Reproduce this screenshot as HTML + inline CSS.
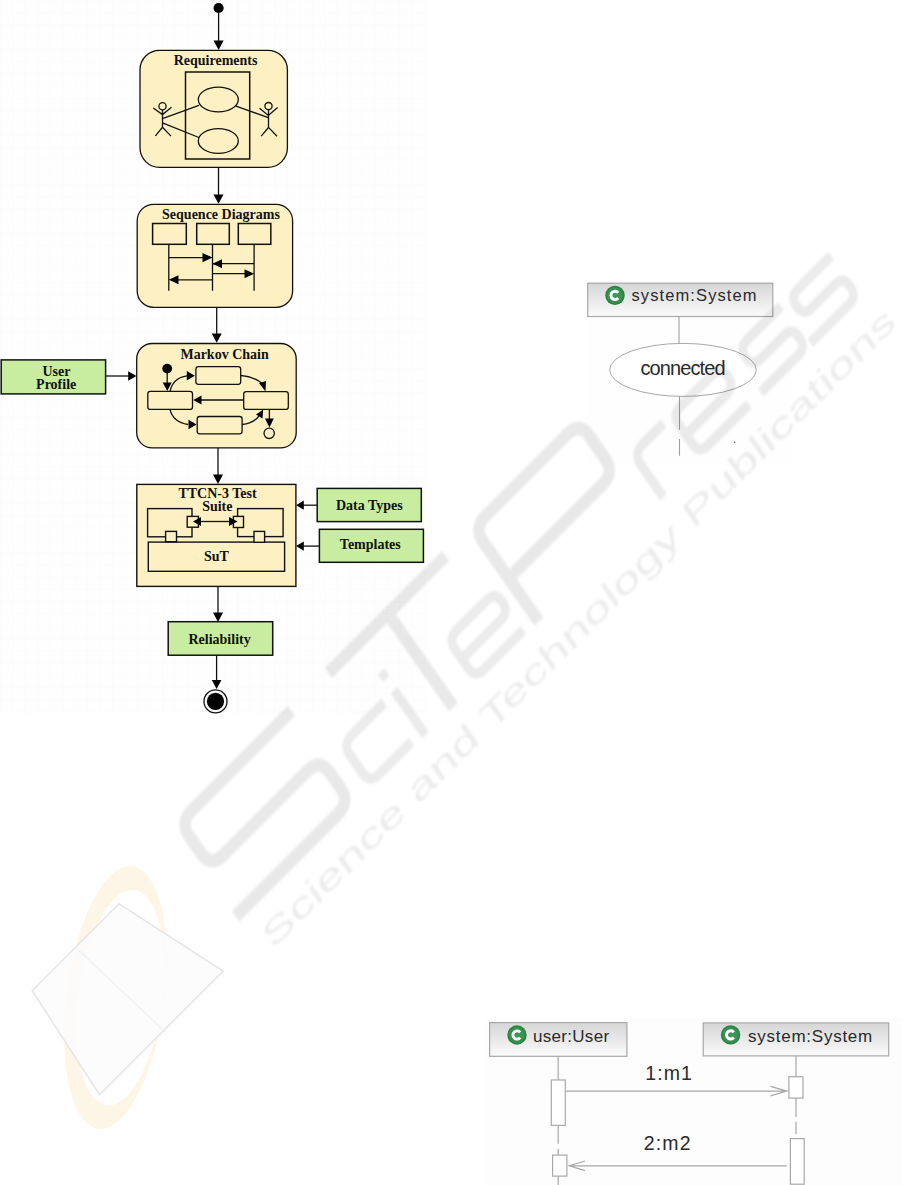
<!DOCTYPE html>
<html><head><meta charset="utf-8">
<style>
html,body{margin:0;padding:0;background:#fff;}
body{width:915px;height:1185px;overflow:hidden;position:relative;font-family:"Liberation Sans",sans-serif;}
svg{position:absolute;left:0;top:0;}
.sr{font-family:"Liberation Serif",serif;font-weight:bold;font-size:14px;fill:#111;}
.ss{font-family:"Liberation Sans",sans-serif;fill:#2a2a2a;}
</style></head>
<body>
<svg width="915" height="1185" viewBox="0 0 915 1185">
<defs>
<linearGradient id="hg" x1="0" y1="0" x2="0" y2="1">
<stop offset="0" stop-color="#d6d6d6"/><stop offset="1" stop-color="#fbfbfb"/>
</linearGradient>
<radialGradient id="ig" cx="0.5" cy="0.5" r="0.5">
<stop offset="0" stop-color="#3f9658"/><stop offset="0.7" stop-color="#3a9152"/><stop offset="1" stop-color="#23803a"/>
</radialGradient>
<g id="cic">
<circle cx="0" cy="0" r="9.7" fill="url(#ig)"/>
<path d="M3.2 -2.6 A4.1 4.1 0 1 0 3.2 2.6" fill="none" stroke="#fff" stroke-width="2.9"/>
</g>
<filter id="wb" x="-5%" y="-5%" width="110%" height="110%"><feGaussianBlur stdDeviation="1.2"/></filter>
<!-- figure backgrounds -->
<pattern id="grid" x="-0.4" y="-0.4" width="12.48" height="12.27" patternUnits="userSpaceOnUse">
<rect width="12.48" height="12.27" fill="#fefefe"/>
<path d="M0 0.6 H12.48 M0.6 0 V12.27" stroke="#fcfcfc" stroke-width="1"/>
</pattern>
</defs>
<!-- WATERMARK -->
<rect x="0" y="0" width="425" height="715.4" fill="url(#grid)"/>
<rect x="585.8" y="281" width="205" height="184.6" fill="#fefefe"/>
<!-- logo -->
<g id="logo">
<path fill="#f9e2ae" fill-opacity="0.3" fill-rule="evenodd" d="M115.4 865 A48.9 132.5 0 1 0 115.41 865 Z M120.4 888.4 A42.1 108.5 0 1 1 120.39 888.4 Z" transform="rotate(7.4 115.4 997.5)"/>
<path d="M119.1 903.8 L223.1 971.1 L99.5 1094.7 L32.2 990.7 Z" fill="#fbfbfb" fill-opacity="0.85" stroke="#e6e6e6" stroke-width="1.6"/>
<path d="M78.7 950.3 L165.6 1032.3" stroke="#f0f0f0" stroke-width="1.2"/>
</g>

<!-- LEFT FIGURE -->
<g stroke="#111" stroke-width="1.3" fill="none">
  <!-- start -->
  <circle cx="218.6" cy="8" r="5.1" fill="#000" stroke="none"/>
  <line x1="218.6" y1="12" x2="218.6" y2="42"/>
  <path d="M213.6 40.5 L223.6 40.5 L218.6 50 Z" fill="#000" stroke="none"/>
  <!-- Requirements -->
  <rect x="140" y="50.3" width="147.4" height="117" rx="19.5" fill="#fdf0c3" stroke-width="1.3"/>
  <rect x="185.5" y="72" width="64.2" height="87" stroke-width="1.5"/>
  <ellipse cx="218.3" cy="99.5" rx="20" ry="12.4"/>
  <ellipse cx="218.3" cy="141" rx="20" ry="12.3"/>
  <!-- left actor -->
  <circle cx="162.5" cy="106.2" r="3.6"/>
  <path d="M153.3 108 L162.5 114.6 L171.5 107.3 M162.5 110 L162.5 127.2 L155.4 135.9 M162.5 127.2 L171 136.1"/>
  <path d="M162.5 118.6 L198.9 105.3 M162.5 122.8 L198.9 137.5"/>
  <!-- right actor -->
  <circle cx="268.5" cy="106.1" r="3.6"/>
  <path d="M259.6 108.3 L268.3 115.4 L277.6 107.5 M268.5 110 L268.5 127.4 L261.2 136.2 M268.5 127.4 L277 136.2"/>
  <path d="M236 106.1 L268.3 117.6"/>
  <!-- connector -->
  <line x1="218.5" y1="167.4" x2="218.5" y2="195"/>
  <path d="M213.5 194.4 L223.5 194.4 L218.5 203.8 Z" fill="#000" stroke="none"/>

  <!-- Sequence Diagrams -->
  <rect x="137.2" y="204.3" width="155.4" height="103.1" rx="16.5" fill="#fdf0c3" stroke-width="1.3"/>
  <rect x="152.6" y="223.5" width="33.7" height="20.8" stroke-width="1.5"/>
  <rect x="196.7" y="223.5" width="32.6" height="20.8" stroke-width="1.5"/>
  <rect x="238.3" y="223.5" width="32.5" height="20.8" stroke-width="1.5"/>
  <path d="M168.8 244.3 V290.7 M212.5 244.3 V290.7 M254.1 244.3 V290.7"/>
  <path d="M168.8 257.6 H203 M212.5 263.7 H222 M212.5 273.7 H245 M212.5 279.8 H178"/>
  <path d="M212.5 263.7 H254.1"/>
  <path d="M212.5 257.6 L202.5 253 L202.5 262.2 Z M212.5 263.7 L222 259.2 L222 268.2 Z M254.1 273.7 L244.5 269.2 L244.5 278.2 Z M168.8 279.8 L178.5 275.3 L178.5 284.3 Z" fill="#000" stroke="none"/>
  <line x1="216.7" y1="307.4" x2="216.7" y2="334"/>
  <path d="M211.7 333.4 L221.7 333.4 L216.7 342.7 Z" fill="#000" stroke="none"/>

  <!-- Markov Chain -->
  <rect x="136.7" y="343.5" width="159.5" height="104.4" rx="15.5" fill="#fdf0c3" stroke-width="1.3"/>
  <rect x="147.8" y="391.4" width="44.7" height="18" rx="2.5" fill="#fdf0c3"/>
  <rect x="195.9" y="366.6" width="44.8" height="17.7" rx="2.5" fill="#fdf0c3"/>
  <rect x="197.2" y="416.5" width="44.9" height="17.3" rx="2.5" fill="#fdf0c3"/>
  <rect x="243.7" y="391.7" width="44.6" height="17.7" rx="2.5" fill="#fdf0c3"/>
  <circle cx="167.2" cy="368.6" r="4.9" fill="#000" stroke="none"/>
  <line x1="167.2" y1="372" x2="167.2" y2="383"/>
  <path d="M162.7 382.6 L171.7 382.6 L167.2 391.1 Z" fill="#000" stroke="none"/>
  <path d="M170 391.4 C172 382 178 377 187 375.8"/>
  <path d="M194.8 375.8 L186.8 371 L186.8 380.6 Z" fill="#000" stroke="none"/>
  <path d="M170 409.4 C172 418 178 423 188 424.5"/>
  <path d="M196.5 424.5 L188.5 419.8 L188.5 429.2 Z" fill="#000" stroke="none"/>
  <path d="M240.7 375.5 C250 376 258 380 263 384"/>
  <path d="M265.5 391.4 L259 383 L266 381 Z" fill="#000" stroke="none"/>
  <path d="M242.1 424.5 C250 424 256 420 259 416"/>
  <path d="M263.2 409.6 L262.5 418.5 L256 414.5 Z" fill="#000" stroke="none"/>
  <path d="M243.7 400 H201"/>
  <path d="M193.2 400 L201.5 395.5 L201.5 404.5 Z" fill="#000" stroke="none"/>
  <line x1="269.4" y1="409.4" x2="269.4" y2="420"/>
  <path d="M265 418.5 L273.8 418.5 L269.4 427.4 Z" fill="#000" stroke="none"/>
  <circle cx="269.2" cy="433.3" r="5.2" fill="#fdf0c3"/>
  <line x1="218" y1="447.9" x2="218" y2="475"/>
  <path d="M213 474.5 L223 474.5 L218 483.9 Z" fill="#000" stroke="none"/>

  <!-- User Profile -->
  <rect x="1.2" y="359.9" width="104.4" height="34" fill="#c8eda0" stroke-width="1.5"/>
  <line x1="105.6" y1="376" x2="129" y2="376"/>
  <path d="M136.5 376 L128.2 371.3 L128.2 380.7 Z" fill="#000" stroke="none"/>

  <!-- TTCN -->
  <rect x="136.8" y="484.4" width="159.1" height="102" fill="#fdf0c3" stroke-width="1.4"/>
  <rect x="147.6" y="508.6" width="44.4" height="28.2" stroke-width="1.4"/>
  <rect x="237.6" y="508.6" width="45.5" height="28" stroke-width="1.4"/>
  <rect x="148.3" y="542.1" width="136.3" height="29.2" fill="#fdf0c3" stroke-width="1.4"/>
  <rect x="187.2" y="516.4" width="11.2" height="10.8" fill="#fdf0c3" stroke-width="1.4"/>
  <rect x="165.6" y="531.4" width="10.9" height="10.3" fill="#fdf0c3" stroke-width="1.4"/>
  <rect x="233.4" y="516.4" width="10.1" height="11.1" fill="#fdf0c3" stroke-width="1.4"/>
  <rect x="254" y="531.4" width="10.6" height="10.9" fill="#fdf0c3" stroke-width="1.4"/>
  <line x1="200" y1="521.5" x2="230" y2="521.5"/>
  <path d="M193 521.5 L201 517 L201 526 Z M237.6 521.5 L229 517 L229 526 Z" fill="#000" stroke="none"/>
  <line x1="218" y1="586.4" x2="218" y2="613"/>
  <path d="M213 612.5 L223 612.5 L218 621.9 Z" fill="#000" stroke="none"/>

  <!-- Data types / templates -->
  <rect x="317.2" y="488.4" width="104.1" height="33.2" fill="#c8eda0" stroke-width="1.5"/>
  <rect x="319.4" y="529.3" width="104" height="33" fill="#c8eda0" stroke-width="1.5"/>
  <line x1="303" y1="505.2" x2="317.2" y2="505.2"/>
  <line x1="303" y1="546.1" x2="319.4" y2="546.1"/>
  <path d="M296.1 505.2 L303.8 500.6 L303.8 509.8 Z M296.1 546.1 L303.8 541.5 L303.8 550.7 Z" fill="#000" stroke="none"/>

  <!-- Reliability -->
  <rect x="168.2" y="621.7" width="104.5" height="33.5" fill="#c8eda0" stroke-width="1.5"/>
  <line x1="216.6" y1="655.2" x2="216.6" y2="681"/>
  <path d="M211.8 680 L221.4 680 L216.6 689 Z" fill="#000" stroke="none"/>
  <circle cx="215.5" cy="701.4" r="11.5" fill="#fff" stroke-width="1.3"/>
  <circle cx="215.5" cy="701.4" r="8.6" fill="#000" stroke="none"/>
</g>
<g class="sr" text-anchor="middle">
  <text x="215.6" y="64.9">Requirements</text>
  <text x="221" y="218.6">Sequence Diagrams</text>
  <text x="224.6" y="358.7">Markov Chain</text>
  <text x="217.5" y="497.8">TTCN-3 Test</text>
  <text x="217.3" y="510.9">Suite</text>
  <text x="216.5" y="560.9">SuT</text>
  <text x="56.4" y="375.5">User</text>
  <text x="56.2" y="388.7">Profile</text>
  <text x="369.3" y="510.3">Data Types</text>
  <text x="370.3" y="548.8">Templates</text>
  <text x="219.6" y="643.8">Reliability</text>
</g>

<!-- RIGHT FIGURE TOP -->
<g>
  <rect x="587.7" y="283.2" width="185.1" height="33.3" fill="url(#hg)" stroke="#a8a8a8" stroke-width="1.2"/>
  <line x1="679" y1="316.5" x2="679" y2="343.4" stroke="#a0a0a0" stroke-width="1.1"/>
  <ellipse cx="683" cy="369.9" rx="73.3" ry="26.5" fill="#fff" stroke="#a8a8a8" stroke-width="1"/>
  <path d="M679.5 396.3 V429.8 M679.5 439 V455.8" stroke="#a0a0a0" stroke-width="1.1"/>
  <text class="ss" x="631.5" y="301.2" font-size="16.5" letter-spacing="1.1">system:System</text>
  <text class="ss" x="640.5" y="374.5" font-size="20" letter-spacing="-0.9">connected</text>
</g>

<!-- RIGHT FIGURE BOTTOM -->
<g>
  <rect x="484.7" y="1018" width="418.3" height="167" fill="#fdfdfd"/>
  <rect x="489.6" y="1022.6" width="137.3" height="33.7" fill="url(#hg)" stroke="#a8a8a8" stroke-width="1.2"/>
  <rect x="703.2" y="1022.9" width="185.5" height="33" fill="url(#hg)" stroke="#a8a8a8" stroke-width="1.2"/>
  <g stroke="#a8a8a8" stroke-width="1.2" fill="none">
    <path d="M558.2 1056.3 V1080 M558.2 1125.4 V1143.8 M558.2 1149 V1155.1 M558.2 1176.1 V1185"/>
    <rect x="551.3" y="1080" width="14" height="45.4" fill="#fff"/>
    <rect x="552.6" y="1155.1" width="14.3" height="21" fill="#fff"/>
    <path d="M796 1055.9 V1076.7 M796 1098.1 V1117 M796 1121.7 V1133.9"/>
    <rect x="788.9" y="1076.7" width="14.1" height="21.4" fill="#fff"/>
    <rect x="790.4" y="1138.6" width="13.8" height="45.6" fill="#fff"/>
    <path d="M565.3 1091.1 H786.8 M770.5 1086.3 L786.8 1091.1 L770.5 1095.9"/>
    <path d="M569.2 1165.8 H786.8 M585 1161 L569.2 1165.8 L585 1170.6"/>
  </g>
  <text class="ss" x="533" y="1042" font-size="17" letter-spacing="0.3">user:User</text>
  <text class="ss" x="748" y="1041.5" font-size="17" letter-spacing="0.75">system:System</text>
  <text class="ss" x="645.3" y="1079.8" font-size="19.5" letter-spacing="1.05">1:m1</text>
  <text class="ss" x="643.8" y="1150.1" font-size="19.5" letter-spacing="1.15">2:m2</text>
</g>
<circle cx="734.7" cy="442.4" r="0.8" fill="#777"/>
<!-- icons -->
<g id="icons">
<use href="#cic" x="615" y="295.4"/>
<use href="#cic" x="517" y="1035"/>
<use href="#cic" x="730.6" y="1034.9"/>
</g>
<g id="wm">
<g transform="translate(453.4,707.1) rotate(-45) skewX(-10)" filter="url(#wb)">
<g fill="none" stroke="#000" stroke-opacity="0.085" stroke-width="12.5" stroke-linejoin="round">
<path d="M-137.0 -112.0 L-278.0 -112.0 Q-295.0 -112.0 -295.0 -95.0 L-295.0 -75.0 Q-295.0 -58.0 -278.0 -58.0 L-158.0 -58.0 Q-141.0 -58.0 -141.0 -41.0 L-141.0 -23.0 Q-141.0 -6.0 -158.0 -6.0 L-303.0 -6.0"/>
<path d="M-84 -112.5 L81.5 -112.5 M0 -112.5 L0 0"/>
<path d="M121.0 0.0 L121.0 -95.5 Q121.0 -112.5 138.0 -112.5 L254.0 -112.5 Q271.0 -112.5 271.0 -95.5 L271.0 -69.0 Q271.0 -52.0 254.0 -52.0 L121.0 -52.0"/>
</g>
<g fill="none" stroke="#000" stroke-opacity="0.078" stroke-width="9.5" stroke-linejoin="round">
<path d="M-55.0 -52.0 L-101.0 -52.0 Q-114.0 -52.0 -114.0 -39.0 L-114.0 -18.0 Q-114.0 -5.0 -101.0 -5.0 L-55.0 -5.0"/>
<path d="M-39.5 -54 L-39.5 0"/>
<path d="M35.0 -28.0 L90.0 -28.0 Q102.0 -28.0 102.0 -40.0 L102.0 -40.0 Q102.0 -52.0 90.0 -52.0 L47.0 -52.0 Q35.0 -52.0 35.0 -40.0 L35.0 -17.0 Q35.0 -5.0 47.0 -5.0 L103.0 -5.0"/>
<path d="M297.0 0.0 L297.0 -38.0 Q297.0 -52.0 311.0 -52.0 L340.0 -52.0"/>
<path d="M352.0 -28.0 L409.0 -28.0 Q421.0 -28.0 421.0 -40.0 L421.0 -40.0 Q421.0 -52.0 409.0 -52.0 L364.0 -52.0 Q352.0 -52.0 352.0 -40.0 L352.0 -17.0 Q352.0 -5.0 364.0 -5.0 L422.0 -5.0"/>
<path d="M506.0 -52.0 L458.0 -52.0 Q447.0 -52.0 447.0 -41.0 L447.0 -40.0 Q447.0 -29.0 458.0 -29.0 L492.0 -29.0 Q503.0 -29.0 503.0 -18.0 L503.0 -16.0 Q503.0 -5.0 492.0 -5.0 L439.0 -5.0"/>
<path d="M577.0 -52.0 L530.0 -52.0 Q519.0 -52.0 519.0 -41.0 L519.0 -40.0 Q519.0 -29.0 530.0 -29.0 L564.0 -29.0 Q575.0 -29.0 575.0 -18.0 L575.0 -16.0 Q575.0 -5.0 564.0 -5.0 L509.0 -5.0"/>
</g>
<g fill="#000" fill-opacity="0.078"><rect x="-44" y="-76.5" width="9" height="9"/></g>
<text x="-292" y="44" font-family="Liberation Sans" font-size="34" fill="#000" fill-opacity="0.075" textLength="884" lengthAdjust="spacingAndGlyphs">Science and Technology Publications</text>
</g>
</g>
</svg>
</body></html>
